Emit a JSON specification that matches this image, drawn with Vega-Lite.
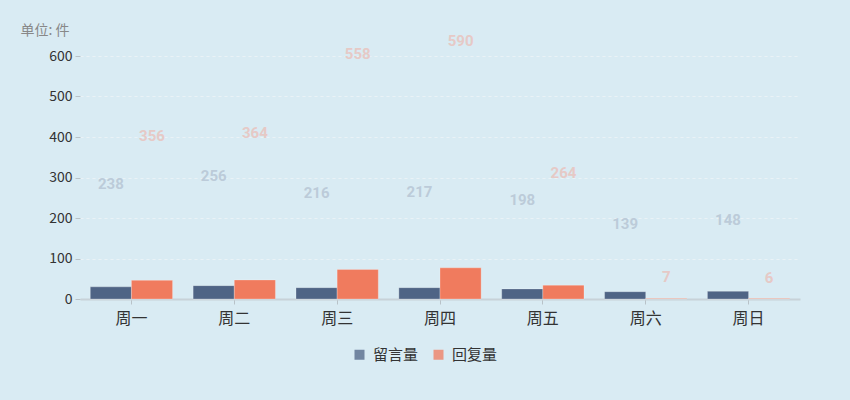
{
  "$schema": "https://vega.github.io/schema/vega-lite/v6.json",
  "width": 720,
  "height": 243,
  "autosize": {"type": "none"},
  "padding": {"left": 80, "top": 56, "right": 50, "bottom": 101},
  "background": "#d9ebf3",
  "config": {
    "view": {"stroke": null},
    "font": "Noto Sans CJK SC"
  },
  "data": {
    "values": [
      {"day": "周一", "series": "留言量", "bar": 30, "label": 238},
      {"day": "周一", "series": "回复量", "bar": 46, "label": 356},
      {"day": "周二", "series": "留言量", "bar": 33, "label": 256},
      {"day": "周二", "series": "回复量", "bar": 47, "label": 364},
      {"day": "周三", "series": "留言量", "bar": 28, "label": 216},
      {"day": "周三", "series": "回复量", "bar": 73, "label": 558},
      {"day": "周四", "series": "留言量", "bar": 28, "label": 217},
      {"day": "周四", "series": "回复量", "bar": 77, "label": 590},
      {"day": "周五", "series": "留言量", "bar": 25, "label": 198},
      {"day": "周五", "series": "回复量", "bar": 34, "label": 264},
      {"day": "周六", "series": "留言量", "bar": 18, "label": 139},
      {"day": "周六", "series": "回复量", "bar": 1, "label": 7},
      {"day": "周日", "series": "留言量", "bar": 19, "label": 148},
      {"day": "周日", "series": "回复量", "bar": 1, "label": 6}
    ]
  },
  "encoding": {
    "x": {
      "field": "day",
      "type": "nominal",
      "sort": ["周一", "周二", "周三", "周四", "周五", "周六", "周日"],
      "scale": {"paddingInner": 0.2, "paddingOuter": 0.1},
      "axis": {
        "title": null,
        "labelAngle": 0,
        "labelFontSize": 16,
        "labelColor": "#333333",
        "labelPadding": 6,
        "domainColor": "#c8d2d8",
        "domainWidth": 2,
        "tickColor": "#b8c2c8",
        "tickSize": 5,
        "ticks": true
      }
    },
    "xOffset": {
      "field": "series",
      "type": "nominal",
      "sort": ["留言量", "回复量"],
      "scale": {"paddingInner": 0, "paddingOuter": 0}
    }
  },
  "layer": [
    {
      "mark": {"type": "bar", "stroke": "#ffffff", "strokeOpacity": 0.25, "strokeWidth": 1},
      "encoding": {
        "y": {
          "field": "bar",
          "type": "quantitative",
          "scale": {"domain": [0, 600], "nice": false},
          "axis": {
            "title": "单位: 件",
            "titleAngle": 0,
            "titleAlign": "left",
            "titleBaseline": "middle",
            "titleX": -60,
            "titleY": -26,
            "titleFontSize": 14,
            "titleFontWeight": "normal",
            "titleColor": "#888888",
            "values": [0, 100, 200, 300, 400, 500, 600],
            "labelFontSize": 14,
            "labelColor": "#333333",
            "labelPadding": 3,
            "domain": false,
            "tickColor": "#b8c2c8",
            "tickSize": 5,
            "grid": true,
            "gridColor": "#eaf2f6",
            "gridDash": [3, 3],
            "gridWidth": 1
          }
        },
        "color": {
          "field": "series",
          "type": "nominal",
          "sort": ["留言量", "回复量"],
          "scale": {"domain": ["留言量", "回复量"], "range": ["#4f6485", "#f07b5e"]},
          "legend": {
            "title": null,
            "orient": "none",
            "direction": "horizontal",
            "legendX": 272,
            "legendY": 291,
            "symbolType": "square",
            "symbolSize": 100,
            "symbolOpacity": 0.75,
            "symbolStrokeWidth": 0,
            "labelFontSize": 15,
            "labelColor": "#333333",
            "columnPadding": 12,
            "labelOffset": 6
          }
        }
      }
    },
    {
      "mark": {"type": "text", "dy": -19, "fontSize": 15, "fontWeight": "bold", "font": "Liberation Sans Narrow, Roboto"},
      "encoding": {
        "y": {"field": "label", "type": "quantitative"},
        "text": {"field": "label", "type": "quantitative"},
        "color": {
          "condition": {"test": "datum.series === '留言量'", "value": "#bccbd9"},
          "value": "#e6c9c6"
        }
      }
    }
  ]
}
